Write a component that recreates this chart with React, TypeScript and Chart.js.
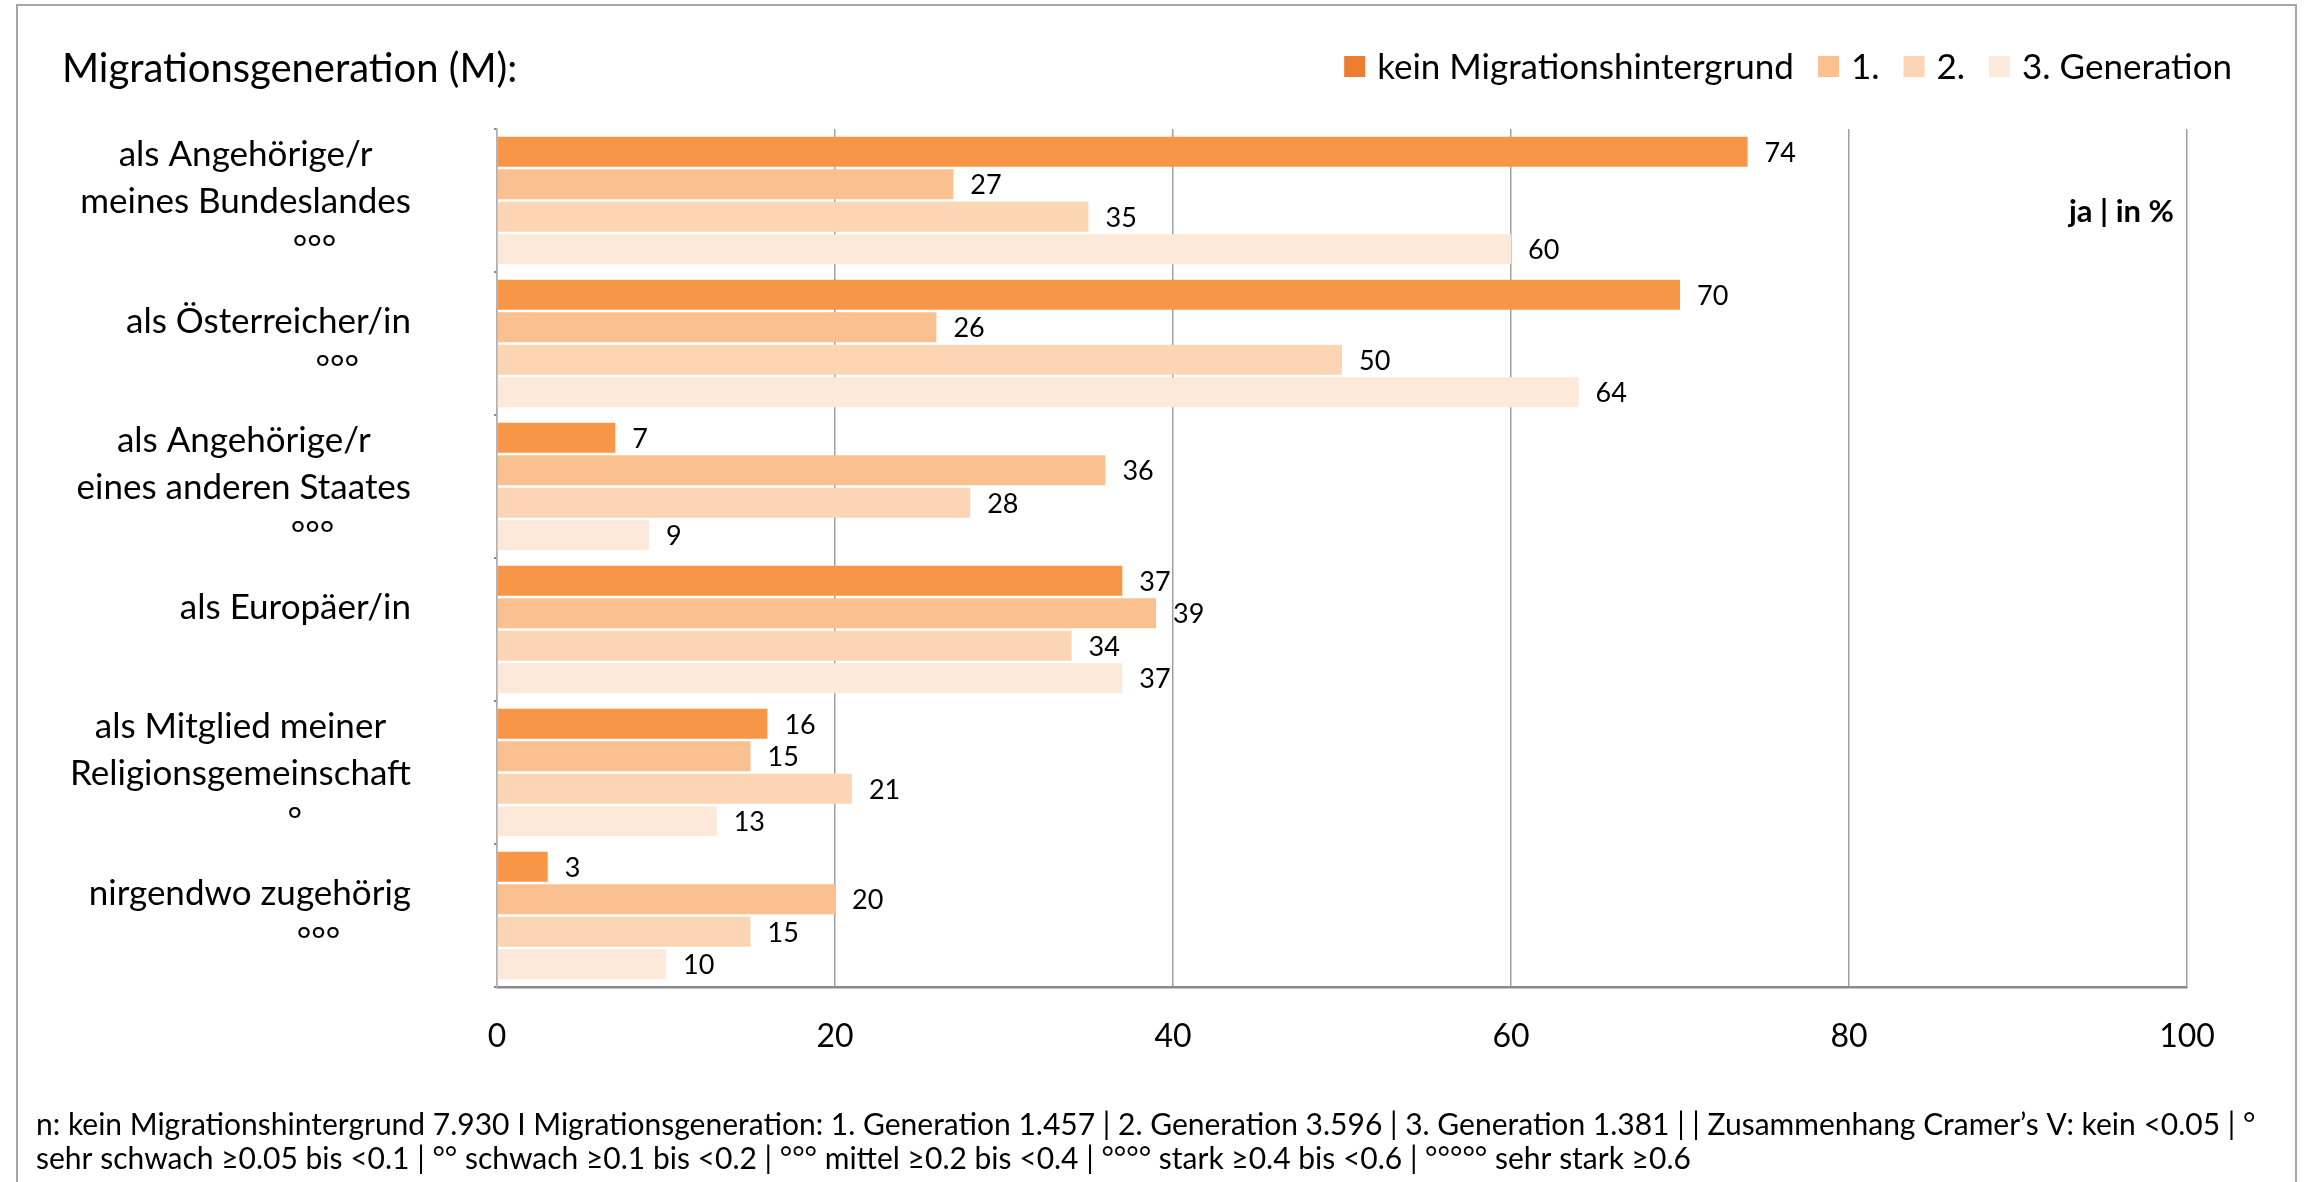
import React, { useEffect, useRef } from "react";
import { Chart, registerables } from "chart.js";

Chart.register(...registerables);

// ---------- data ----------
const categoryLabels: string[][] = [
  ["als Angehörige/r", "meines Bundeslandes", "°°°"],
  ["als Österreicher/in", "°°°"],
  ["als Angehörige/r", "eines anderen Staates", "°°°"],
  ["als Europäer/in", ""],
  ["als Mitglied meiner", "Religionsgemeinschaft", "°"],
  ["nirgendwo zugehörig", "°°°"],
];
const seriesNames = ["kein Migrationshintergrund", "1.", "2.", "3. Generation"];
const keinMigration = [74, 70, 7, 37, 16, 3];
const generation1 = [27, 26, 36, 39, 15, 20];
const generation2 = [35, 50, 28, 34, 21, 15];
const generation3 = [60, 64, 9, 37, 13, 10];
const xTickValues = [0, 20, 40, 60, 80, 100];
const titleText = "Migrationsgeneration (M):";
const unitText = "ja | in %";
const footnoteLines = [
  "n: kein Migrationshintergrund 7.930 I Migrationsgeneration: 1. Generation 1.457 | 2. Generation 3.596 | 3. Generation 1.381 | | Zusammenhang Cramer’s V: kein <0.05 | °",
  "sehr schwach ≥0.05 bis <0.1 | °° schwach ≥0.1 bis <0.2 | °°° mittel ≥0.2 bis <0.4 | °°°° stark ≥0.4 bis <0.6 | °°°°° sehr stark ≥0.6",
];

// ---------- styles ----------
const FONT = 'Lato, "Open Sans", "DejaVu Sans", sans-serif';
const barColors = ["#F79646", "#FAC090", "#FCD5B5", "#FDE9D9"];
const legendColors = ["#ED7D31", "#FAC090", "#FCD5B5", "#FDE9D9"];
const TEXT = "#000000";

const overlayPlugin = {
  id: "overlay",
  afterDatasetsDraw(chart: any) {
    const ctx = chart.ctx as CanvasRenderingContext2D;
    ctx.save();
    ctx.font = `27px ${FONT}`;
    ctx.fillStyle = TEXT;
    ctx.textAlign = "left";
    ctx.textBaseline = "alphabetic";
    chart.data.datasets.forEach((ds: any, di: number) => {
      const meta = chart.getDatasetMeta(di);
      meta.data.forEach((bar: any, i: number) => {
        const p = bar.getProps(["x", "y"], true);
        ctx.fillText(String(ds.data[i]), p.x + 17, p.y + 10);
      });
    });
    ctx.restore();
  },
  afterDraw(chart: any) {
    const ctx = chart.ctx as CanvasRenderingContext2D;
    const H = chart.height;
    ctx.save();

    // outer frame
    ctx.strokeStyle = "#a6a6a6";
    ctx.lineWidth = 2;
    ctx.beginPath();
    ctx.moveTo(17, H);
    ctx.lineTo(17, 5);
    ctx.lineTo(2296, 5);
    ctx.lineTo(2296, H);
    ctx.stroke();

    // title
    ctx.fillStyle = TEXT;
    ctx.textBaseline = "alphabetic";
    ctx.textAlign = "left";
    ctx.font = `40px ${FONT}`;
    ctx.fillText(titleText, 62, 82);

    // legend (right aligned)
    ctx.font = `35px ${FONT}`;
    const box = 21;
    const boxGap = 12;
    const itemGap = 24;
    const widths = seriesNames.map((s) => box + boxGap + ctx.measureText(s).width);
    const total = widths.reduce((a, b) => a + b, 0) + itemGap * (seriesNames.length - 1);
    let lx = 2232 - total;
    seriesNames.forEach((s, i) => {
      ctx.fillStyle = legendColors[i];
      ctx.fillRect(lx, 56, box, box);
      ctx.fillStyle = TEXT;
      ctx.fillText(s, lx + box + boxGap, 79);
      lx += widths[i] + itemGap;
    });

    // unit label
    ctx.font = `bold 31px ${FONT}`;
    ctx.textAlign = "right";
    ctx.fillText(unitText, 2174, 222);

    // category labels
    const yScale = chart.scales.y;
    ctx.font = `35px ${FONT}`;
    const rightEdge = 411;
    const lineGap = 47;
    categoryLabels.forEach((lines, i) => {
      const cy = yScale.getPixelForValue(i);
      const textLines = lines.filter((l) => l !== "" && !/^°+$/.test(l));
      const maxW = Math.max(...textLines.map((l) => ctx.measureText(l).width));
      const blockCenter = rightEdge - maxW / 2;
      const n = lines.length;
      lines.forEach((line, li) => {
        if (!line) return;
        const lineCenter = cy + (li - (n - 1) / 2) * lineGap;
        const baseline = lineCenter + 12.5;
        if (/^°+$/.test(line)) {
          ctx.textAlign = "left";
          ctx.fillText(line, blockCenter + 47, baseline);
        } else {
          ctx.textAlign = "center";
          ctx.fillText(line, blockCenter, baseline);
        }
      });
    });

    // footnote
    ctx.font = `30px ${FONT}`;
    ctx.textAlign = "left";
    ctx.fillText(footnoteLines[0], 36, 1135);
    ctx.fillText(footnoteLines[1], 36, 1169);

    ctx.restore();
  },
};

export default function App() {
  const canvasRef = useRef<HTMLCanvasElement | null>(null);

  useEffect(() => {
    if (!canvasRef.current) return;
    const chart = new Chart(canvasRef.current, {
      type: "bar",
      data: {
        labels: categoryLabels.map((l) => l.join(" ")),
        datasets: [
          { label: seriesNames[0], data: keinMigration, backgroundColor: barColors[0] },
          { label: seriesNames[1], data: generation1, backgroundColor: barColors[1] },
          { label: seriesNames[2], data: generation2, backgroundColor: barColors[2] },
          { label: seriesNames[3], data: generation3, backgroundColor: barColors[3] },
        ],
      },
      options: {
        indexAxis: "y",
        animation: false,
        responsive: true,
        maintainAspectRatio: false,
        devicePixelRatio: 1,
        datasets: {
          bar: { categoryPercentage: 0.91, barPercentage: 0.92, borderWidth: 0 },
        },
        layout: { padding: { left: 497, top: 129, right: 123, bottom: 124 } },
        plugins: {
          legend: { display: false },
          title: { display: false },
          tooltip: { enabled: false },
        },
        scales: {
          x: {
            min: 0,
            max: 100,
            afterBuildTicks: (s: any) => {
              s.ticks = xTickValues.map((v) => ({ value: v }));
            },
            afterFit: (s: any) => {
              s.height = 71;
            },
            grid: { color: "#a0a0a0", lineWidth: 1.5, drawTicks: false },
            border: { display: true, color: "#8a8a8a", width: 2.5 },
            ticks: {
              padding: 30,
              color: TEXT,
              font: { family: FONT, size: 32 },
            },
          },
          y: {
            afterFit: (s: any) => {
              s.width = 0;
            },
            ticks: { display: false },
            grid: { display: true, drawOnChartArea: false, drawTicks: true, tickLength: 3, lineWidth: 2, color: "#8a8a8a", offset: true },
            border: { display: true, color: "#b0b0b0", width: 1.5 },
          },
        },
      },
      plugins: [overlayPlugin],
    } as any);
    return () => chart.destroy();
  }, []);

  return (
    <div style={{ position: "fixed", left: 0, top: 0, width: 2310, height: 1182, background: "#fff" }}>
      <canvas ref={canvasRef} style={{ display: "block" }} />
    </div>
  );
}
